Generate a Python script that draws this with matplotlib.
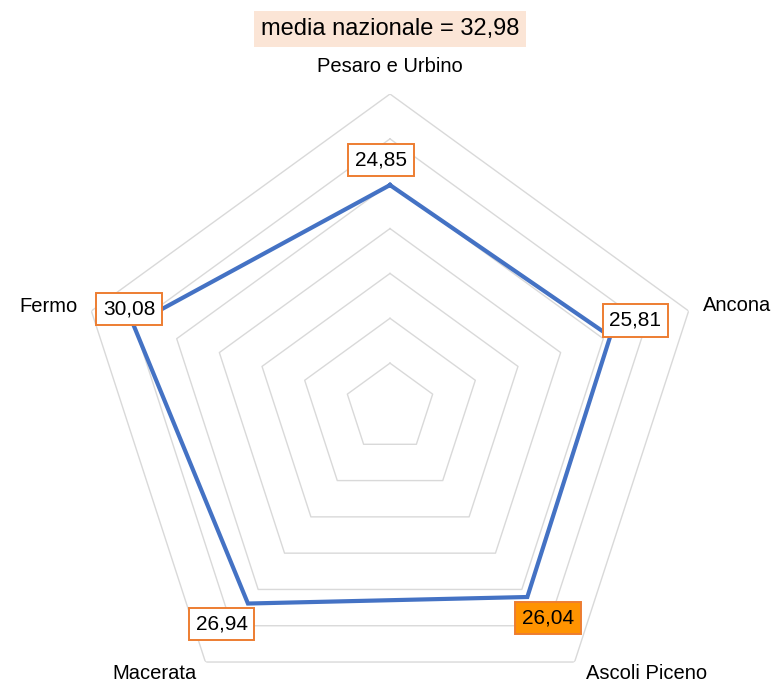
import numpy as np
import matplotlib
matplotlib.use('Agg')
import matplotlib.pyplot as plt

plt.rcParams['font.family'] = ['Liberation Sans', 'DejaVu Sans']

province = ['Pesaro e Urbino', 'Ancona', 'Ascoli Piceno', 'Macerata', 'Fermo']
valori = [24.85, 25.81, 26.04, 26.94, 30.08]
media_nazionale = 32.98
anelli = [5, 10, 15, 20, 25, 30, 35]
r_max = 35

# label placement (points), colours
off_val = [(-6.5, 18), (18, 11.5), (15, -15), (-19, -14.5), (-3, 11)]
off_cat = [((0, 19.5), 'center'), ((10, 4), 'left'), ((8, -8.5), 'left'),
           ((-6, -8.5), 'right'), ((-10, 3), 'right')]
fill_val = ['white', 'white', '#FF9300', 'white', 'white']

def fmt(v):
    return f'{v:.2f}'.replace('.', ',')

fig = plt.figure(figsize=(7.78, 6.83), dpi=100)
cx, cy, R = 390, 408, 314
W, H = 778, 683
ax = fig.add_axes([(cx - R) / W, (H - cy - R) / H, 2 * R / W, 2 * R / H], projection='polar')
ax.set_theta_offset(np.pi / 2)
ax.set_theta_direction(-1)
ax.set_ylim(0, r_max)
ax.axis('off')

theta = np.linspace(0, 2 * np.pi, len(province), endpoint=False)
theta_c = np.append(theta, theta[0])

for r in anelli:
    ax.plot(theta_c, [r] * len(theta_c), color='#D9D9D9', lw=1.0, zorder=1)

v_c = np.append(valori, valori[0])
ax.plot(theta_c, v_c, color='#4472C4', lw=3.0, zorder=3, solid_joinstyle='miter')

for t, v, off, fc in zip(theta, valori, off_val, fill_val):
    ax.annotate(fmt(v), xy=(t, v), xytext=off, textcoords='offset points',
                ha='center', va='center', fontsize=15, zorder=5,
                bbox=dict(boxstyle='square,pad=0.32', fc=fc, ec='#ED7D31', lw=1.4))

for t, name, (off, ha) in zip(theta, province, off_cat):
    ax.annotate(name, xy=(t, r_max), xytext=off, textcoords='offset points',
                ha=ha, va='center', fontsize=14.5, annotation_clip=False)

fig.text(cx / W, 1 - 29 / H, f'media nazionale = {fmt(media_nazionale)}',
         ha='center', va='center', fontsize=17,
         bbox=dict(boxstyle='square,pad=0.3', fc='#FBE5D6', ec='none'))

fig.savefig('out.png', dpi=100)
